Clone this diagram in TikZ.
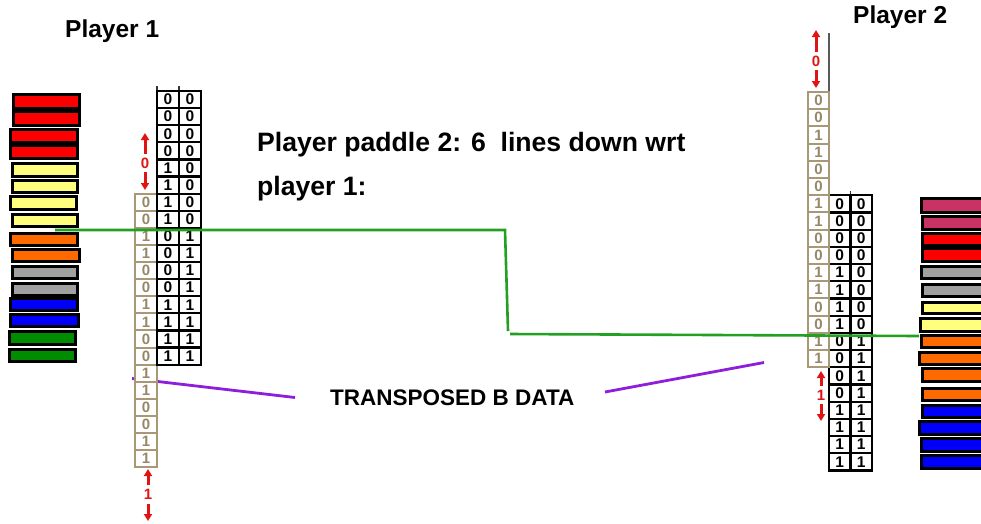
\documentclass[tikz,border=0pt]{standalone}
\usepackage{fontspec}
\setmainfont{Liberation Sans}
\usetikzlibrary{arrows.meta}
\definecolor{cred}{RGB}{250,0,0}
\definecolor{cyel}{RGB}{255,255,125}
\definecolor{corg}{RGB}{255,106,0}
\definecolor{cgray}{RGB}{160,160,160}
\definecolor{cblue}{RGB}{0,0,250}
\definecolor{cgreen}{RGB}{0,140,0}
\definecolor{cmar}{RGB}{200,50,100}
\definecolor{tanc}{RGB}{168,152,118}
\definecolor{tantext}{RGB}{150,135,105}
\definecolor{lgreen}{RGB}{34,160,34}
\definecolor{lpurple}{RGB}{140,30,220}
\definecolor{arred}{RGB}{225,20,20}
\begin{document}
\begin{tikzpicture}[x=1pt,y=-1pt,
  bar/.style={draw=black, line width=3pt},
  bcell/.style={draw=black, line width=2.2pt, fill=white, inner sep=0pt, outer sep=0pt,
    minimum height=17.1pt, font=\bfseries\fontsize{15.5}{15.5}\selectfont},
  tcell/.style={draw=tanc, line width=2pt, fill=white, text=tantext, inner sep=0pt, outer sep=0pt,
    font=\bfseries\fontsize{15}{15}\selectfont},
  ttl/.style={anchor=base west, inner sep=0pt, font=\bfseries\fontsize{24.5}{24.5}\selectfont},
  bigtxt/.style={anchor=base west, inner sep=0pt, font=\bfseries\fontsize{26.6}{26.6}\selectfont},
  midtxt/.style={anchor=base west, inner sep=0pt, font=\bfseries\fontsize{22.5}{22.5}\selectfont},
  rdig/.style={text=arred, inner sep=0pt, font=\bfseries\fontsize{15}{15}\selectfont},
  rarrow/.style={draw=arred, line width=3pt, -{Triangle[length=7pt,width=8pt]}},
  gline/.style={draw=lgreen, line width=2.6pt},
  pline/.style={draw=lpurple, line width=2.8pt}]
\useasboundingbox (0,0) rectangle (981,523);
\clip (0,0) rectangle (981,523);
% ---------- left colour bars
\foreach \t/\b/\l/\r/\c in {
  93.3/110/11.7/81/cred, 110/127/11.7/81/cred, 127.7/144.3/9.3/79.3/cred, 144.3/160/9.3/79.3/cred,
  162/178/10.7/79.3/cyel, 179/194/10.7/79.3/cyel, 195/211/9/78/cyel, 213/228/10.7/79.3/cyel,
  231.7/246.7/9.3/78.7/corg, 247.7/263/11/80.7/corg, 265/280/10.7/79.3/cgray, 281.7/296.7/10.7/79.3/cgray,
  296.7/312/9.3/79.3/cblue, 313/328/9.3/80/cblue, 330/345.7/8.3/77.3/cgreen, 348.3/363.3/8.3/77.3/cgreen}
  \draw[bar, fill=\c] (\l+1.5,\t+1.5) rectangle (\r-1.5,\b-1.5);
% ---------- right colour bars
\foreach \t/\b/\l/\c in {
  197.3/214/920/cmar, 215/230.7/920.7/cmar, 231.7/246.7/920.7/cred, 247.3/262.7/920.7/cred,
  265/280/920/cgray, 282.7/298.3/920.7/cgray, 300.7/315/920.7/cyel, 317.3/333.3/919.3/cyel,
  334/349.3/920/corg, 350.7/366/918.3/corg, 367.3/382.7/920.7/corg, 386.7/401.7/920.7/corg,
  404/419.3/920.7/cblue, 420/436/918.3/cblue, 437.3/453.3/920/cblue, 454/470/920/cblue}
  \draw[bar, fill=\c] (\l+1.5,\t+1.5) rectangle (995,\b-1.5);
% ---------- titles and texts
\node[ttl] (p1) at (65,37) {Player 1};
\node[ttl] (p2) at (853,23) {Player 2};
\node[bigtxt] (t1) at (257,151) {Player paddle 2: 6\ \ lines down wrt};
\node[bigtxt] (t2) at (257,195) {player 1:};
\node[midtxt] (tb) at (330,405) {TRANSPOSED B DATA};
% ---------- purple pointer lines
\coordinate (pl1) at (132,378.5);
\coordinate (pl2) at (295,397.5);
\coordinate (pr1) at (605,392);
\coordinate (pr2) at (764,362.5);
\draw[pline] (pl1) -- (pl2);
\draw[pline] (pr1) -- (pr2);
% ---------- extra thin lines
\draw[line width=1.5pt, draw=black!80] (157,86) -- (157,91);
\draw[line width=1.5pt, draw=black!80] (179,86) -- (179,91);
\draw[line width=1.5pt, draw=black!80] (829,191) -- (829,195.2);
\draw[line width=1.5pt, draw=black!80] (850.5,191) -- (850.5,195.2);
\coordinate (rtop) at (829,33);
\draw[line width=1.4pt, draw=black!65] (rtop) -- (829,92);
% ---------- left tan column and table
\foreach \i in {0,...,15}{
  \pgfmathtruncatemacro{\va}{mod(floor(\i/4),2)}
  \pgfmathtruncatemacro{\vb}{\i>7}
  \pgfmathtruncatemacro{\vt}{mod(floor(\i/2),2)}
  \node[tcell, minimum width=22pt, minimum height=17.1pt] (LT\i) at (146, 193.6+17.1*\i+8.55) {\vt};
  \node[bcell, minimum width=22pt] (LA\i) at (168, 91+17.1*\i+8.55) {\va};
  \node[bcell, minimum width=22pt] (LB\i) at (190, 91+17.1*\i+8.55) {\vb};
}
% ---------- right tan column and table
\foreach \i in {0,...,15}{
  \pgfmathtruncatemacro{\va}{mod(floor(\i/4),2)}
  \pgfmathtruncatemacro{\vb}{\i>7}
  \pgfmathtruncatemacro{\vt}{mod(floor(\i/2),2)}
  \node[tcell, minimum width=21pt, minimum height=17.2pt] (RT\i) at (818.5, 92+17.2*\i+8.6) {\vt};
  \node[bcell, minimum width=21.5pt, minimum height=17.2pt] (RA\i) at (839.75, 195.2+17.2*\i+8.6) {\va};
  \node[bcell, minimum width=21.5pt, minimum height=17.2pt] (RB\i) at (861.25, 195.2+17.2*\i+8.6) {\vb};
}
% ---------- red arrows
\node[rdig] (a1) at (145,163) {0};
\coordinate (a1u) at (145,133); \coordinate (a1d) at (145,190);
\draw[rarrow] (145,154) -- (a1u);
\draw[rarrow] (145,172) -- (a1d);
\node[rdig] (a2) at (148,494) {1};
\coordinate (a2u) at (148,469); \coordinate (a2d) at (148,521);
\draw[rarrow] (148,485) -- (a2u);
\draw[rarrow] (148,504) -- (a2d);
\node[rdig] (a3) at (816,61) {0};
\coordinate (a3u) at (816,30); \coordinate (a3d) at (816,88);
\draw[rarrow] (816,52) -- (a3u);
\draw[rarrow] (816,70) -- (a3d);
\node[rdig] (a4) at (821,395) {1};
\coordinate (a4u) at (821,371); \coordinate (a4d) at (821,421);
\draw[rarrow] (821,386) -- (a4u);
\draw[rarrow] (821,404) -- (a4d);
% ---------- green line
\coordinate (g1) at (55,230);
\coordinate (g2) at (505,230);
\coordinate (g3) at (508,331);
\coordinate (g4) at (510,334);
\coordinate (g5) at (919,336);
\draw[gline] (g1) -- (g2) -- (g3);
\draw[gline] (g4) -- (g5);
\end{tikzpicture}
\end{document}
